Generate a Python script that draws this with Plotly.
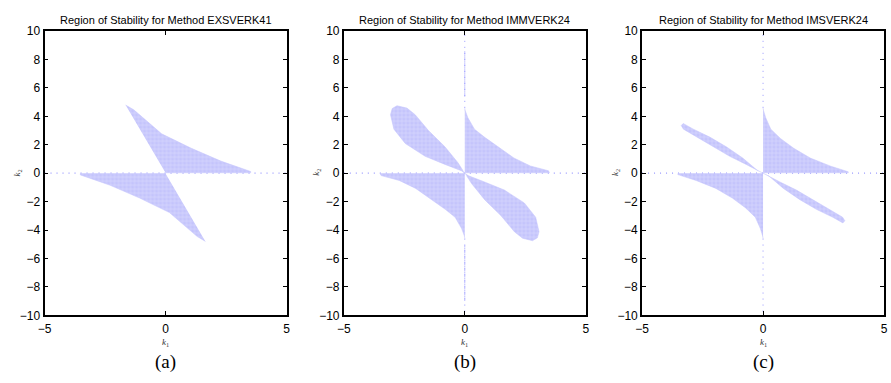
import plotly.graph_objects as go

# ---------------- data ----------------
titles = ["Region of Stability for Method EXSVERK41",
          "Region of Stability for Method IMMVERK24",
          "Region of Stability for Method IMSVERK24"]
captions = ["(a)", "(b)", "(c)"]

x_ticks = [-5, 0, 5]
y_ticks = [-10, -8, -6, -4, -2, 0, 2, 4, 6, 8, 10]

# Panel (a)
a_up_k1 = [-1.65, -1.31, -0.16, 1.07, 2.29, 3.52, 3.52, 0.0]
a_up_k2 = [4.8, 4.46, 2.77, 1.75, 0.85, 0.12, 0.03, 0.03]
a_lo_k1 = [1.65, 1.31, 0.16, -1.07, -2.29, -3.52, -3.52, 0.0]
a_lo_k2 = [-4.8, -4.46, -2.77, -1.75, -0.85, -0.12, -0.03, -0.03]

# Panel (b)
b_ul_k1 = [0.0, -0.14, -0.82, -1.64, -2.46, -2.93, -3.07, -3.0, -2.8, -2.39, -2.05, -1.5, -0.82, -0.28, -0.07]
b_ul_k2 = [0.0, 0.17, 0.62, 1.19, 2.09, 3.1, 4.12, 4.55, 4.75, 4.58, 4.12, 3.0, 1.86, 0.73, 0.17]
b_lr_k1 = [0.0, 0.14, 0.82, 1.64, 2.46, 2.93, 3.07, 3.0, 2.8, 2.39, 2.05, 1.5, 0.82, 0.28, 0.07]
b_lr_k2 = [0.0, -0.17, -0.62, -1.19, -2.09, -3.1, -4.12, -4.55, -4.75, -4.58, -4.12, -3.0, -1.86, -0.73, -0.17]
b_ur_k1 = [0.0, 0.02, 0.13, 0.4, 0.81, 1.36, 2.03, 2.71, 3.46, 3.5, 0.0]
b_ur_k2 = [4.58, 4.4, 3.9, 3.1, 2.54, 1.86, 1.07, 0.51, 0.17, 0.03, 0.03]
b_ll_k1 = [0.0, -0.02, -0.13, -0.4, -0.81, -1.36, -2.03, -2.71, -3.46, -3.5, 0.0]
b_ll_k2 = [-4.58, -4.4, -3.9, -3.1, -2.54, -1.86, -1.07, -0.51, -0.17, -0.03, -0.03]

# Panel (c)
c_ul_k1 = [0.0, -0.29, -0.7, -1.38, -2.06, -2.74, -3.29, -3.38, -3.3, -2.88, -2.2, -1.52, -0.84, -0.22]
c_ul_k2 = [0.0, 0.28, 0.62, 1.19, 1.86, 2.54, 3.1, 3.35, 3.5, 3.1, 2.54, 1.86, 1.07, 0.17]
c_lr_k1 = [0.0, 0.29, 0.7, 1.38, 2.06, 2.74, 3.29, 3.38, 3.3, 2.88, 2.2, 1.52, 0.84, 0.22]
c_lr_k2 = [0.0, -0.28, -0.62, -1.19, -1.86, -2.54, -3.1, -3.35, -3.5, -3.1, -2.54, -1.86, -1.07, -0.17]
c_ur_k1 = [0.0, 0.02, 0.11, 0.32, 0.73, 1.27, 1.95, 2.77, 3.52, 3.52, 0.0]
c_ur_k2 = [4.58, 4.4, 3.9, 3.1, 2.43, 1.75, 1.07, 0.51, 0.1, 0.03, 0.03]
c_ll_k1 = [0.0, -0.02, -0.11, -0.32, -0.73, -1.27, -1.95, -2.77, -3.52, -3.52, 0.0]
c_ll_k2 = [-4.58, -4.4, -3.9, -3.1, -2.43, -1.75, -1.07, -0.51, -0.1, -0.03, -0.03]

# Isolated stable points along the axes
h_axis_k1 = [-5, 5]
h_axis_k2 = [0, 0]
v_k1 = [0, 0]
v_up_k2 = [4.6, 10]
v_dn_k2 = [-4.6, -10]
b_dense_up_k2 = [5.4, 8.6]
b_dense_dn_k2 = [-5.1, -9.0]

regions = [
    [(a_up_k1, a_up_k2), (a_lo_k1, a_lo_k2)],
    [(b_ul_k1, b_ul_k2), (b_lr_k1, b_lr_k2), (b_ur_k1, b_ur_k2), (b_ll_k1, b_ll_k2)],
    [(c_ul_k1, c_ul_k2), (c_lr_k1, c_lr_k2), (c_ur_k1, c_ur_k2), (c_ll_k1, c_ll_k2)],
]
has_vertical = [False, True, True]
dense_vertical = [[], [b_dense_up_k2, b_dense_dn_k2], []]

# ---------------- styling / layout ----------------
W, H = 891, 383
plot_left_px = [38, 341, 643]
plot_w_px = 245
plot_top_px, plot_bot_px = 25, 320

FILL_BG = "rgb(196,196,252)"
FILL_FG = "rgb(236,236,255)"
DOT = "rgb(150,150,255)"
NARROW = "Liberation Sans Narrow, Arial Narrow, Liberation Sans, Arial, sans-serif"
SERIF = "Liberation Serif, DejaVu Serif, serif"

fig = go.Figure()

for i in range(3):
    xa = "x" if i == 0 else f"x{i+1}"
    ya = "y" if i == 0 else f"y{i+1}"
    fig.add_trace(go.Scatter(x=h_axis_k1, y=h_axis_k2, mode="lines",
                             line=dict(color=DOT, width=1.2, dash="1px,5px"),
                             xaxis=xa, yaxis=ya, showlegend=False, hoverinfo="skip"))
    if has_vertical[i]:
        for vk2 in (v_up_k2, v_dn_k2):
            fig.add_trace(go.Scatter(x=v_k1, y=vk2, mode="lines",
                                     line=dict(color=DOT, width=1, dash="1px,5px"),
                                     xaxis=xa, yaxis=ya, showlegend=False, hoverinfo="skip"))
    for vk2 in dense_vertical[i]:
        fig.add_trace(go.Scatter(x=v_k1, y=vk2, mode="lines",
                                 line=dict(color=DOT, width=1, dash="1px,1px"),
                                 xaxis=xa, yaxis=ya, showlegend=False, hoverinfo="skip"))
    for k1, k2 in regions[i]:
        fig.add_trace(go.Scatter(x=k1, y=k2, mode="lines", fill="toself",
                                 fillcolor=FILL_BG,
                                 fillpattern=dict(shape="+", bgcolor=FILL_BG, fgcolor=FILL_FG,
                                                  size=4, solidity=0.3),
                                 line=dict(color=FILL_BG, width=0.5),
                                 xaxis=xa, yaxis=ya, showlegend=False, hoverinfo="skip"))

axis_common = dict(showline=True, linecolor="black", linewidth=1.8, mirror="ticks",
                   ticks="inside", ticklen=4, tickcolor="black", tickwidth=1,
                   showgrid=False, zeroline=False,
                   tickfont=dict(family=NARROW, size=12, color="black"))

layout = dict(width=W, height=H, margin=dict(l=0, r=0, t=0, b=0),
              plot_bgcolor="white", paper_bgcolor="white", showlegend=False)

y0 = 1 - plot_bot_px / H
y1 = 1 - plot_top_px / H
annotations = []
for i in range(3):
    x0 = plot_left_px[i] / W
    x1 = (plot_left_px[i] + plot_w_px) / W
    xs = "xaxis" if i == 0 else f"xaxis{i+1}"
    ys = "yaxis" if i == 0 else f"yaxis{i+1}"
    yname = "y" if i == 0 else f"y{i+1}"
    xname = "x" if i == 0 else f"x{i+1}"
    layout[xs] = dict(axis_common, domain=[x0, x1], range=[-5, 5],
                      tickvals=x_ticks, anchor=yname, ticklabelstandoff=1)
    layout[ys] = dict(axis_common, domain=[y0, y1], range=[-10, 10],
                      tickvals=y_ticks, anchor=xname)
    cx = (x0 + x1) / 2
    annotations.append(dict(text=titles[i], x=cx, y=1 - 13 / H, xref="paper", yref="paper",
                            showarrow=False, xanchor="center", yanchor="middle",
                            font=dict(family=NARROW, size=11, color="black")))
    annotations.append(dict(text="<i>k</i><sub>1</sub>", x=cx, y=1 - 348 / H,
                            xref="paper", yref="paper", showarrow=False,
                            xanchor="center", yanchor="middle",
                            font=dict(family=SERIF, size=9, color="#333")))
    annotations.append(dict(text="<i>k</i><sub>2</sub>", x=(plot_left_px[i] - 27) / W,
                            y=1 - 172 / H, xref="paper", yref="paper", showarrow=False,
                            xanchor="center", yanchor="middle", textangle=-90,
                            font=dict(family=SERIF, size=9, color="#333")))
    annotations.append(dict(text=captions[i], x=cx, y=1 - 368 / H,
                            xref="paper", yref="paper", showarrow=False,
                            xanchor="center", yanchor="middle",
                            font=dict(family=SERIF, size=19, color="black")))

layout["annotations"] = annotations
fig.update_layout(**layout)
fig.write_html("out.html")
